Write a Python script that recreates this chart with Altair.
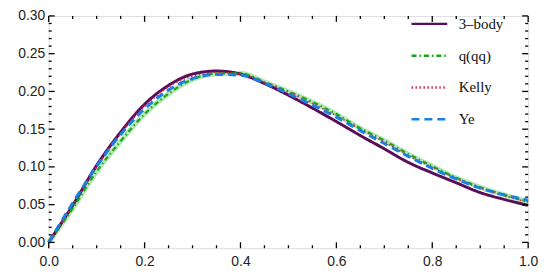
import altair as alt
import pandas as pd

x_vals = [0.0, 0.05, 0.10, 0.15, 0.20, 0.25, 0.30, 0.35, 0.40, 0.45, 0.50,
          0.55, 0.60, 0.65, 0.70, 0.75, 0.80, 0.85, 0.90, 0.95, 1.00]
three_body = [0.0, 0.049, 0.102, 0.146, 0.183, 0.208, 0.223, 0.227, 0.223, 0.2105, 0.195,
              0.178, 0.160, 0.1415, 0.124, 0.106, 0.092, 0.079, 0.066, 0.057, 0.049]
q_qq = [0.0, 0.045, 0.094, 0.134, 0.170, 0.197, 0.216, 0.2235, 0.2240, 0.2125, 0.200,
        0.186, 0.170, 0.151, 0.135, 0.117, 0.101, 0.0855, 0.073, 0.063, 0.054]
kelly = [0.0, 0.049, 0.100, 0.144, 0.180, 0.206, 0.220, 0.225, 0.223, 0.212, 0.199,
         0.184, 0.168, 0.150, 0.133, 0.115, 0.0995, 0.085, 0.072, 0.062, 0.053]
ye = [0.0, 0.052, 0.101, 0.143, 0.177, 0.202, 0.217, 0.2225, 0.2215, 0.211, 0.197,
      0.182, 0.166, 0.148, 0.131, 0.114, 0.098, 0.084, 0.072, 0.063, 0.056]

series_names = ["3–body", "q(qq)", "Kelly", "Ye"]
series_vals = [three_body, q_qq, kelly, ye]
colors = ["#5a0c5a", "#1aa51a", "#d0304a", "#1c80e0"]
dashes = [[1, 0], [5, 3, 1.5, 3], [1.5, 2.5], [8, 5]]
widths = [3, 2.2, 1.6, 3]

y_major = [0.0, 0.05, 0.10, 0.15, 0.20, 0.25, 0.30]
y_minor = [round(i * 0.01, 2) for i in range(0, 31) if i % 5 != 0]
x_major = [0.0, 0.2, 0.4, 0.6, 0.8, 1.0]
x_minor = [0.05, 0.1, 0.15, 0.25, 0.3, 0.35, 0.45, 0.5, 0.55, 0.65, 0.7, 0.75, 0.85, 0.9, 0.95]

W, H = 483, 234

rows = []
for name, vals in zip(series_names, series_vals):
    for x, v in zip(x_vals, vals):
        rows.append({"x": x, "v": v, "series": name})
df = pd.DataFrame(rows)

xs = alt.Scale(domain=[0, 1], nice=False, zero=False)
ys = alt.Scale(domain=[-0.0077, 0.30], nice=False, zero=False)

xaxis = alt.Axis(values=x_major, format=".1f", tickSize=0, domain=False, grid=False,
                 labelFont="Liberation Sans", labelFontSize=14, labelColor="#222",
                 labelPadding=6, title=None, labelFlush=False, labelOverlap=False)
yaxis = alt.Axis(values=y_major, format=".2f", tickSize=0, domain=False, grid=False,
                 labelFont="Liberation Sans", labelFontSize=14, labelColor="#222",
                 labelPadding=4, title=None, labelFlush=False, labelOverlap=False)

legend = alt.Legend(title=None, orient="none", legendX=364, legendY=-8,
                    symbolType="stroke", symbolSize=1296,
                    symbolStrokeWidth=2.5, labelFont="Liberation Serif",
                    labelFontSize=15, labelColor="#111", labelOffset=10,
                    clipHeight=32, rowPadding=-1, padding=0)

X = alt.X("x:Q", scale=xs, axis=xaxis)
Y = alt.Y("v:Q", scale=ys, axis=yaxis)

halo = alt.Chart(df[df.series == "q(qq)"]).mark_line(
    color="#b5e8b5", strokeWidth=5, interpolate="monotone"
).encode(x=X, y=Y)

line_layers = []
for name, w in zip(series_names, widths):
    line_layers.append(
        alt.Chart(df[df.series == name]).mark_line(interpolate="monotone", strokeWidth=w).encode(
            x=X, y=Y,
            color=alt.Color("series:N", scale=alt.Scale(domain=series_names, range=colors),
                            legend=legend),
            strokeDash=alt.StrokeDash("series:N",
                                      scale=alt.Scale(domain=series_names, range=dashes),
                                      legend=legend),
        )
    )

def yticks(vals, length):
    d = pd.DataFrame({"v": vals})
    left = alt.Chart(d).mark_rule(color="black", strokeWidth=1.3).encode(
        y=alt.Y("v:Q", scale=ys, axis=yaxis), x=alt.value(0), x2=alt.value(length))
    right = alt.Chart(d).mark_rule(color="black", strokeWidth=1.3).encode(
        y=alt.Y("v:Q", scale=ys, axis=yaxis), x=alt.value(W), x2=alt.value(W - length))
    return [left, right]

def xticks(vals, length):
    d = pd.DataFrame({"x": vals})
    bottom = alt.Chart(d).mark_rule(color="black", strokeWidth=1.3).encode(
        x=alt.X("x:Q", scale=xs, axis=xaxis), y=alt.value(H), y2=alt.value(H - length))
    top = alt.Chart(d).mark_rule(color="black", strokeWidth=1.3).encode(
        x=alt.X("x:Q", scale=xs, axis=xaxis), y=alt.value(0), y2=alt.value(length))
    return [bottom, top]

ticks = yticks(y_major, 6) + yticks(y_minor, 3) + xticks(x_major, 6) + xticks(x_minor, 3)

chart = alt.layer(halo, *line_layers, *ticks).properties(
    width=W, height=H,
    autosize=alt.AutoSizeParams(type="none"),
    padding={"left": 41, "top": 7, "right": 20, "bottom": 26},
).configure_view(stroke="black", strokeWidth=1.8).configure(background="white")

chart.save("out.html", embed_options={"renderer": "svg", "actions": False})
